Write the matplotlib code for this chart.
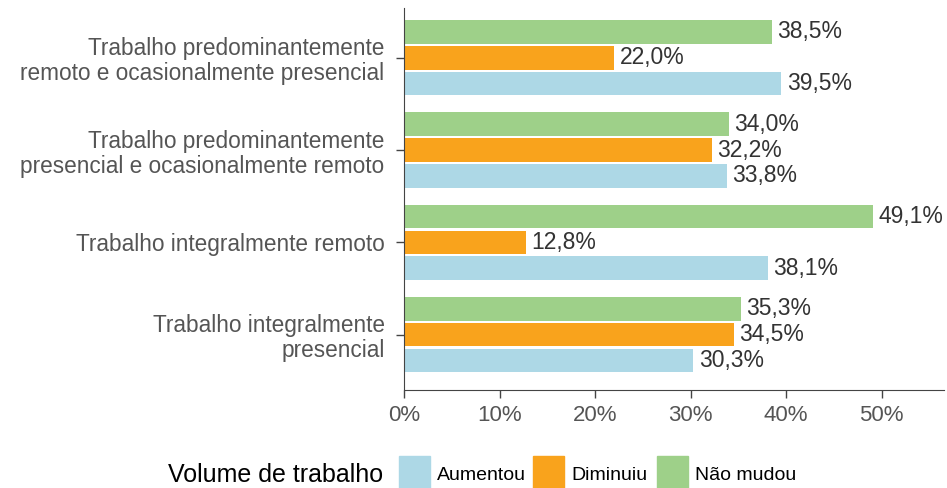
import numpy as np
import matplotlib
matplotlib.use("Agg")
import matplotlib.pyplot as plt
from matplotlib.patches import Rectangle

plt.rcParams['font.family'] = ['Liberation Sans', 'DejaVu Sans']

# categories, bottom to top
categories = [
    "Trabalho integralmente\npresencial",
    "Trabalho integralmente remoto",
    "Trabalho predominantemente\npresencial e ocasionalmente remoto",
    "Trabalho predominantemente\nremoto e ocasionalmente presencial",
]
aumentou = [30.3, 38.1, 33.8, 39.5]
diminuiu = [34.5, 12.8, 32.2, 22.0]
nao_mudou = [35.3, 49.1, 34.0, 38.5]

series_names = ["Aumentou", "Diminuiu", "Não mudou"]
colors = ["#ADD8E6", "#F9A31C", "#9ED089"]
x_ticks = [0, 10, 20, 30, 40, 50]

W, H = 947, 488
fig = plt.figure(figsize=(W / 100, H / 100), dpi=100)
ax = fig.add_axes([404 / W, (H - 389.5) / H, (943.5 - 404) / W, (389.5 - 8) / H])

y = np.arange(len(categories))
step = 0.28
bh = 0.255
series = [aumentou, diminuiu, nao_mudou]
offsets = [-step, 0, step]
for vals, off, col in zip(series, offsets, colors):
    bars = ax.barh(y + off, vals, height=bh, color=col)
    for b, v in zip(bars, vals):
        ax.text(b.get_width() + 0.55, b.get_y() + b.get_height() / 2,
                f"{v:.1f}%".replace(".", ","), va="center", ha="left",
                fontsize=16.5, color="#333333")

ax.set_xlim(0, 56.47)
ax.set_ylim(-0.595, 3.54)
ax.set_yticks(y)
ax.set_yticklabels(categories, fontsize=16.3, color="#555555", linespacing=1.12,
                   ha="right")
ax.set_xticks(x_ticks)
ax.set_xticklabels([f"{t}%" for t in x_ticks], fontsize=16, color="#555555")
ax.tick_params(axis="both", length=6, width=1, color="#444444", pad=5)
ax.tick_params(axis="y", pad=8)
for s in ["top", "right"]:
    ax.spines[s].set_visible(False)
for s in ["left", "bottom"]:
    ax.spines[s].set_color("#444444")

# legend row at the bottom
fig.text(383 / W, 1 - 475 / H, "Volume de trabalho", fontsize=18,
         ha="right", va="center", color="black")
box_x = [399, 533, 657]
for name, col, bx in zip(series_names, colors, box_x):
    fig.patches.append(Rectangle((bx / W, 1 - 488 / H), 31 / W, 32 / H,
                                 transform=fig.transFigure, color=col))
    fig.text((bx + 38) / W, 1 - 475 / H, name, fontsize=14,
             ha="left", va="center", color="black")

fig.savefig("out.png", dpi=100)
